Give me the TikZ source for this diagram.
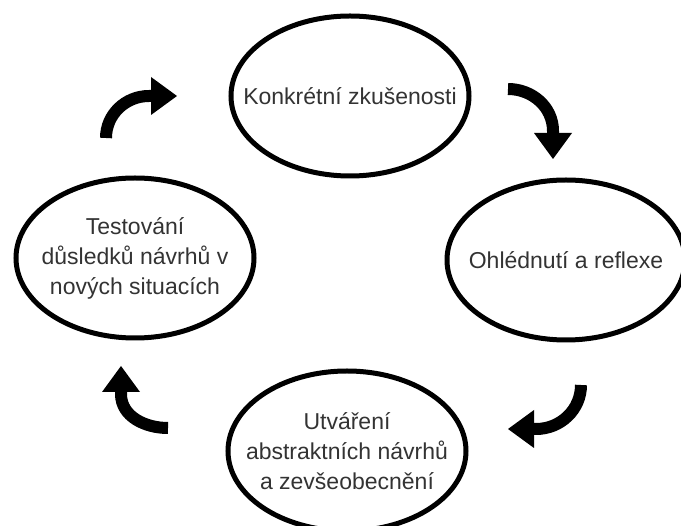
\documentclass[tikz,border=0pt]{standalone}
\usepackage{fontspec}
\setmainfont{Liberation Sans}
\usetikzlibrary{arrows.meta}

\begin{document}
\begin{tikzpicture}[x=1pt,y=-1pt,
  stage/.style={align=center,text=black!80,font=\fontsize{23}{30}\selectfont},
  ring/.style={line width=5pt},
  turn/.style={line width=12pt,-{Triangle[width=38pt,length=26pt,line width=0pt]}}]
\useasboundingbox (0,0) rectangle (681,526);
\clip (0,0) rectangle (681,526);
% the four stages
\node[stage] (K) at (350,96) {Konkrétní zkušenosti};
\node[stage] (O) at (566,260) {Ohlédnutí a reflexe};
\node[stage] (U) at (347,451) {Utváření\\abstraktních návrhů\\a zevšeobecnění};
\node[stage] (T) at (135,258) {Testování\\důsledků návrhů v\\nových situacích};
\foreach \n in {K,O,U,T}
  \draw[ring] (\n.center) ellipse [x radius=119pt, y radius=80pt];
% arrows round the cycle
\coordinate (ko1) at (508,89);  \coordinate (ko2) at (553,131); \coordinate (ko3) at (553,159);
\coordinate (ou1) at (581,385); \coordinate (ou2) at (536,429); \coordinate (ou3) at (508,429);
\coordinate (ut1) at (168,428); \coordinate (ut2) at (121,394); \coordinate (ut3) at (121,366);
\coordinate (tk1) at (106,138); \coordinate (tk2) at (149,96);  \coordinate (tk3) at (177,96);
\draw[turn] (ko1) to[out=0,in=90] (ko2) -- (ko3);
\draw[turn] (ou1) to[out=-90,in=0] (ou2) -- (ou3);
\draw[turn] (ut1) to[out=180,in=-90] (ut2) -- (ut3);
\draw[turn] (tk1) to[out=90,in=180] (tk2) -- (tk3);
\end{tikzpicture}
\end{document}
